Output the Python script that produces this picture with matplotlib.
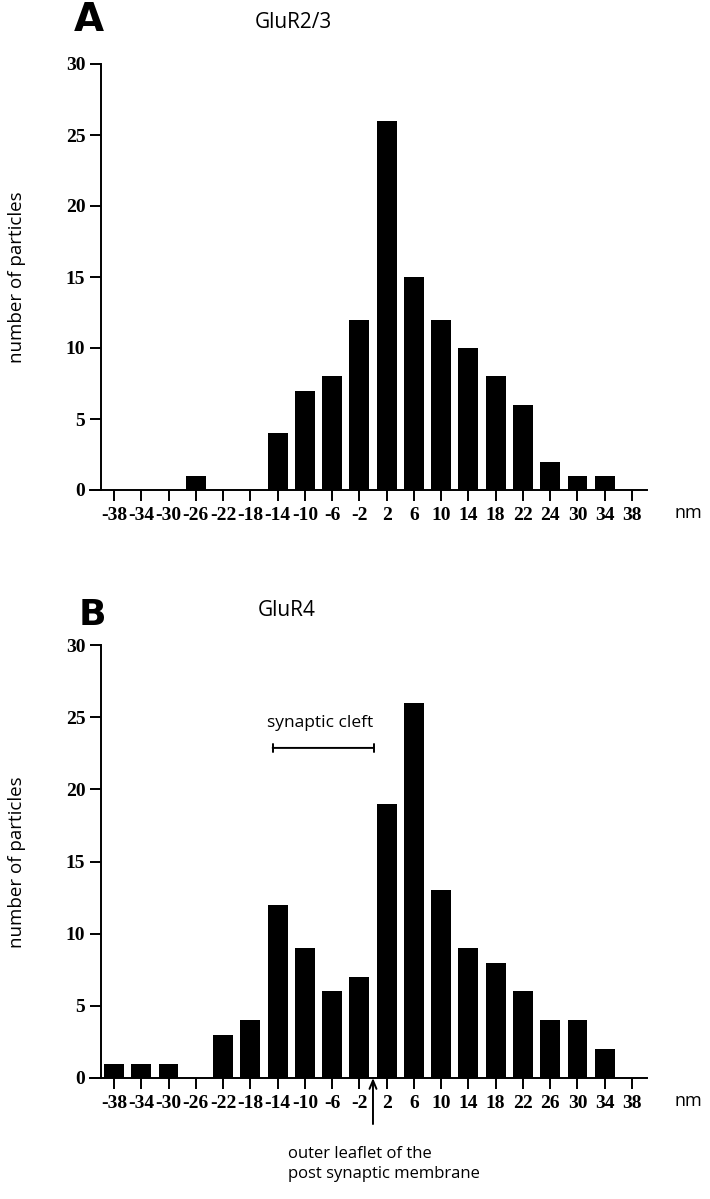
import matplotlib.pyplot as plt

# categorías (nm) y recuentos
labels_a = ["-38", "-34", "-30", "-26", "-22", "-18", "-14", "-10", "-6", "-2",
            "2", "6", "10", "14", "18", "22", "24", "30", "34", "38"]
counts_a = [0, 0, 0, 1, 0, 0, 4, 7, 8, 12, 26, 15, 12, 10, 8, 6, 2, 1, 1, 0]

labels_b = ["-38", "-34", "-30", "-26", "-22", "-18", "-14", "-10", "-6", "-2",
            "2", "6", "10", "14", "18", "22", "26", "30", "34", "38"]
counts_b = [1, 1, 1, 0, 3, 4, 12, 9, 6, 7, 19, 26, 13, 9, 8, 6, 4, 4, 2, 0]

yticks = [0, 5, 10, 15, 20, 25, 30]

SANS = "Open Sans"
SERIF = "Liberation Serif"
W, H = 710, 1199


def panel(ax, labels, counts):
    x = list(range(len(labels)))
    ax.bar(x, counts, width=0.73, color="black", zorder=3)
    ax.set_xlim(-0.88, 19.54)
    ax.set_ylim(0, 30)
    for s in ["top", "right"]:
        ax.spines[s].set_visible(False)
    ax.spines["left"].set_position(("data", -0.49))
    ax.spines["left"].set_linewidth(1.4)
    ax.spines["bottom"].set_linewidth(1.4)
    ax.set_xticks(x)
    ax.set_xticklabels(labels)
    ax.set_yticks(yticks)
    ax.tick_params(axis="x", length=8, width=1.4, pad=4)
    ax.tick_params(axis="y", length=8, width=1.4, pad=3)
    for t in ax.get_xticklabels() + ax.get_yticklabels():
        t.set_fontfamily(SERIF)
        t.set_fontweight("bold")
        t.set_fontsize(14)


fig = plt.figure(figsize=(W / 100, H / 100), dpi=100)
ax_a = fig.add_axes([90 / W, 1 - 490 / H, 556.7 / W, 426 / H])
ax_b = fig.add_axes([90 / W, 1 - 1078 / H, 556.7 / W, 433 / H])

panel(ax_a, labels_a, counts_a)
panel(ax_b, labels_b, counts_b)

# unidades
fig.text(688 / W, 1 - 513 / H, "nm", fontfamily=SANS, fontsize=13, ha="center", va="center")
fig.text(688 / W, 1 - 1101 / H, "nm", fontfamily=SANS, fontsize=13, ha="center", va="center")

# etiquetas del eje y
fig.text(17.5 / W, 1 - 277 / H, "number of particles", rotation=90, fontfamily=SANS,
         fontsize=13.5, ha="center", va="center")
fig.text(17.5 / W, 1 - 862 / H, "number of particles", rotation=90, fontfamily=SANS,
         fontsize=13.5, ha="center", va="center")

# letras de panel y títulos
fig.text(89 / W, 1 - 20 / H, "A", fontfamily="DejaVu Sans", fontweight="bold", fontsize=28,
         ha="center", va="center")
fig.text(293 / W, 1 - 22 / H, "GluR2/3", fontfamily=SANS, fontsize=15, ha="center", va="center")
fig.text(92 / W, 1 - 615 / H, "B", fontfamily="DejaVu Sans", fontweight="bold", fontsize=26,
         ha="center", va="center")
fig.text(287 / W, 1 - 611 / H, "GluR4", fontfamily=SANS, fontsize=15, ha="center", va="center")

# hendidura sináptica
ax_b.annotate("", xy=(5.82, 22.87), xytext=(9.52, 22.87),
              arrowprops=dict(arrowstyle="|-|,widthA=0.3,widthB=0.3", lw=1.4, color="black",
                              shrinkA=0, shrinkB=0))
ax_b.text(7.56, 24.3, "synaptic cleft", fontfamily=SANS, fontsize=12.5, ha="center", va="baseline")

# flecha: capa externa de la membrana postsináptica
ax_b.annotate("", xy=(9.5, 0), xytext=(9.5, -3.19), annotation_clip=False,
              arrowprops=dict(arrowstyle="->,head_length=0.6,head_width=0.25", lw=1.4,
                              color="black", shrinkA=0, shrinkB=0))
fig.text(288 / W, 1 - 1164 / H, "outer leaflet of the\npost synaptic membrane", fontfamily=SANS,
         fontsize=12, ha="left", va="center", linespacing=1.3)

fig.savefig("out.png", dpi=100)
